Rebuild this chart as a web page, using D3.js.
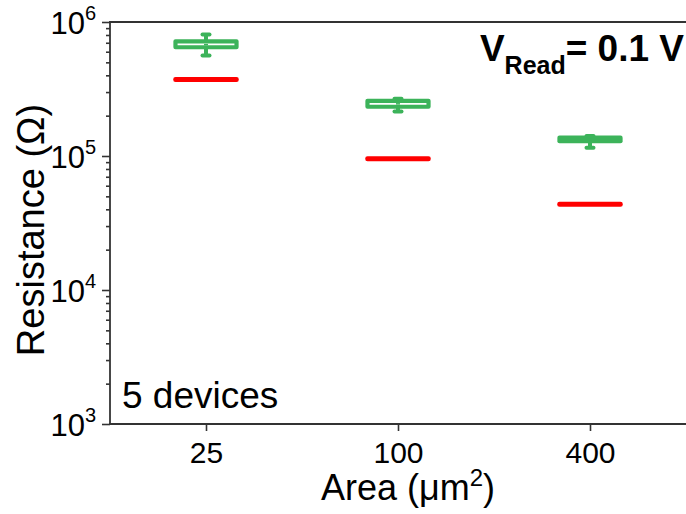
<!DOCTYPE html>
<html>
<head>
<meta charset="utf-8">
<script src="https://cdn.jsdelivr.net/npm/d3@7"></script>
<style>
  html, body { margin: 0; padding: 0; background: #fff; }
  svg { display: block; font-family: "Liberation Sans", Arial, sans-serif; }
</style>
</head>
<body>
<svg id="chart" width="686" height="514"></svg>
<script>
// Device area categories (µm²)
const areas = ["25", "100", "400"];

// High-resistance state: box statistics over 5 devices (Ω)
const hrsWhiskerLow  = [5.62e5, 2.15e5, 1.15e5];
const hrsQ1          = [6.48e5, 2.33e5, 1.29e5];
const hrsMean        = [6.78e5, 2.45e5, 1.33e5];
const hrsQ3          = [7.18e5, 2.58e5, 1.37e5];
const hrsWhiskerHigh = [8.07e5, 2.67e5, 1.41e5];

// Low-resistance state: spread is too small to open the box (Ω)
const lrsQ1 = [3.70e5, 9.48e4, 4.34e4];
const lrsQ3 = [3.74e5, 9.56e4, 4.38e4];

// Y axis decades
const yDecades = [1e3, 1e4, 1e5, 1e6];
const yExponents = ["3", "4", "5", "6"];

const svg = d3.select("#chart");
const plotLeft = 110, plotRight = 686, plotTop = 22, plotBottom = 424;

const x = d3.scalePoint().domain(areas).range([plotLeft, plotRight]).padding(0.5);
const y = d3.scaleLog().domain([1e3, 1e6]).range([plotBottom, plotTop]);
const step = x.step();
const boxW = step * 0.318;

const green = "#3cb35a";
const red = "#ff0000";
const axisColor = "#333333";

// Minor ticks 2..9 in each decade
const minorTicks = [];
[1e3, 1e4, 1e5].forEach(d => { for (let k = 2; k <= 9; k++) minorTicks.push(d * k); });

const yMinor = svg.append("g").attr("transform", `translate(${plotLeft},0)`)
  .call(d3.axisLeft(y).tickValues(minorTicks).tickSize(4).tickFormat(""));
const yMajor = svg.append("g").attr("transform", `translate(${plotLeft},0)`)
  .call(d3.axisLeft(y).tickValues(yDecades).tickSize(8).tickPadding(6).tickFormat(""));
[yMinor, yMajor].forEach(g => {
  g.select(".domain").remove();
  g.selectAll("line").attr("stroke", axisColor).attr("stroke-width", 1.6);
});
yMajor.selectAll(".tick text").each(function (d, i) {
  const t = d3.select(this).attr("dy", null).attr("y", 11)
    .attr("font-size", 31).attr("fill", "#000").attr("text-anchor", "end");
  t.text(null);
  t.append("tspan").text("10");
  t.append("tspan").attr("font-size", 20).attr("dy", -14).text(yExponents[i]);
});

const xAxis = svg.append("g").attr("transform", `translate(0,${plotBottom})`)
  .call(d3.axisBottom(x).tickSize(7));
xAxis.select(".domain").remove();
xAxis.selectAll("line").attr("stroke", axisColor).attr("stroke-width", 1.6);
xAxis.selectAll("text").attr("dy", null).attr("y", 39)
  .attr("font-size", 30).attr("fill", "#000");

// Frame: left axis, bottom axis, top border
svg.append("line").attr("x1", plotLeft).attr("x2", plotLeft).attr("y1", plotTop).attr("y2", plotBottom)
  .attr("stroke", axisColor).attr("stroke-width", 1.8);
svg.append("line").attr("x1", plotLeft - 1).attr("x2", 700).attr("y1", plotBottom).attr("y2", plotBottom)
  .attr("stroke", axisColor).attr("stroke-width", 1.8);
svg.append("line").attr("x1", plotLeft - 1).attr("x2", 700).attr("y1", plotTop).attr("y2", plotTop)
  .attr("stroke", axisColor).attr("stroke-width", 1.8);

// Low-resistance boxes (collapsed to a bar)
const lrs = svg.append("g");
areas.forEach((a, i) => {
  const cx = x(a);
  lrs.append("rect")
    .attr("x", cx - boxW / 2).attr("width", boxW)
    .attr("y", y(lrsQ3[i])).attr("height", Math.max(0.5, y(lrsQ1[i]) - y(lrsQ3[i])))
    .attr("fill", "none").attr("stroke", red).attr("stroke-width", 4.5)
    .attr("stroke-linejoin", "round");
});

// High-resistance boxes with whiskers
const hrs = svg.append("g");
areas.forEach((a, i) => {
  const cx = x(a);
  const capW = 7;
  // whiskers
  hrs.append("line").attr("x1", cx).attr("x2", cx)
    .attr("y1", y(hrsWhiskerHigh[i])).attr("y2", y(hrsQ3[i]))
    .attr("stroke", green).attr("stroke-width", 4);
  hrs.append("line").attr("x1", cx).attr("x2", cx)
    .attr("y1", y(hrsQ1[i])).attr("y2", y(hrsWhiskerLow[i]))
    .attr("stroke", green).attr("stroke-width", 4);
  [hrsWhiskerHigh[i], hrsWhiskerLow[i]].forEach(v => {
    hrs.append("line").attr("x1", cx - capW / 2).attr("x2", cx + capW / 2)
      .attr("y1", y(v)).attr("y2", y(v))
      .attr("stroke", green).attr("stroke-width", 4).attr("stroke-linecap", "round");
  });
  // box
  hrs.append("rect")
    .attr("x", cx - boxW / 2).attr("width", boxW)
    .attr("y", y(hrsQ3[i])).attr("height", y(hrsQ1[i]) - y(hrsQ3[i]))
    .attr("fill", "none").attr("stroke", green).attr("stroke-width", 4.2)
    .attr("stroke-linejoin", "round");
  // mean marker
  hrs.append("rect").attr("x", cx - 2).attr("width", 4)
    .attr("y", y(hrsMean[i]) - 0.75).attr("height", 1.5).attr("fill", green);
});

// Annotations
svg.append("text").attr("x", 122).attr("y", 408)
  .attr("font-size", 37).attr("fill", "#000").text("5 devices");

const vr = svg.append("text").attr("x", 684).attr("y", 61)
  .attr("text-anchor", "end").attr("font-weight", "bold")
  .attr("font-size", 37).attr("fill", "#000");
vr.append("tspan").text("V");
vr.append("tspan").attr("font-size", 25).attr("dy", 13).text("Read");
vr.append("tspan").attr("dy", -13).text("= 0.1 V");

// Axis titles
svg.append("text").attr("transform", `translate(44,${(plotTop + plotBottom) / 2 + 7}) rotate(-90)`)
  .attr("text-anchor", "middle").attr("font-size", 38).attr("fill", "#000")
  .text("Resistance (Ω)");

const xt = svg.append("text").attr("x", 408).attr("y", 500)
  .attr("text-anchor", "middle").attr("font-size", 36).attr("fill", "#000");
xt.append("tspan").text("Area (μm");
xt.append("tspan").attr("font-size", 24).attr("dy", -14).text("2");
xt.append("tspan").attr("dy", 14).text(")");
</script>
</body>
</html>
